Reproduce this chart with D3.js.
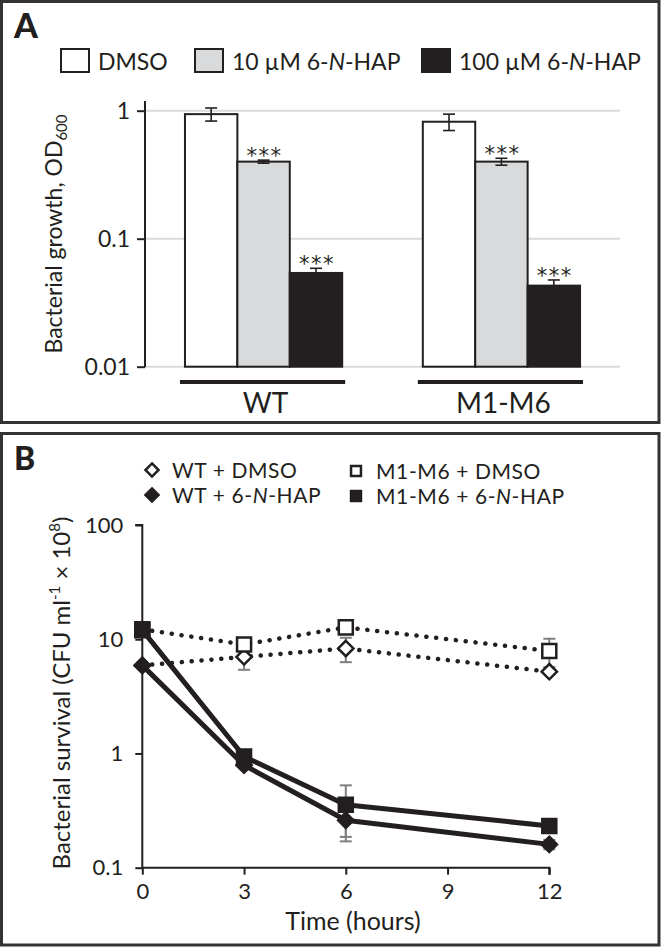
<!DOCTYPE html>
<html><head><meta charset="utf-8">
<script src="https://cdn.jsdelivr.net/npm/d3@7"></script>
<style>
body{margin:0;background:#fff}
text{font-family:Lato,"Open Sans",sans-serif;fill:#231f20}
text.stars{font-family:"DejaVu Sans",sans-serif}
</style>
</head><body>
<svg id="c" width="661" height="948"></svg>
<script>
// ---------- Panel A data ----------
const groups = ["WT", "M1-M6"];
const treatments = ["DMSO", "10 µM 6-N-HAP", "100 µM 6-N-HAP"];
const growthWT = [0.94, 0.40, 0.054];
const growthM16 = [0.82, 0.40, 0.043];
const errWT = [0.11, 0.011, 0.0047];
const errM16 = [0.12, 0.025, 0.0046];
const starsWT = ["", "***", "***"];
const starsM16 = ["", "***", "***"];
const growthTicks = [0.01, 0.1, 1];
const growthTickLabels = ["0.01", "0.1", "1"];

// ---------- Panel B data ----------
const hours = [0, 3, 6, 12];
const hourTicks = [0, 3, 6, 9, 12];
const survWTDMSO = [5.9, 7.0, 8.3, 5.2];
const survM16DMSO = [12.2, 9.0, 12.7, 7.9];
const survWTHAP = [5.9, 0.79, 0.26, 0.16];
const survM16HAP = [12.0, 0.94, 0.356, 0.232];
const errWTDMSO = [0, 1.6, 2.0, 0];
const errM16DMSO = [0, 0, 0, 2.2];
const errWTHAP = [0, 0, 0.09, 0.015];
const errM16HAP = [0, 0, 0.17, 0];
const survTicks = [0.1, 1, 10, 100];
const survTickLabels = ["0.1", "1", "10", "100"];

const INK = "#231f20";
const svg = d3.select("#c");

// frames
svg.append("rect").attr("x",1.5).attr("y",1.5).attr("width",657.5).attr("height",421)
  .attr("fill","none").attr("stroke","#333").attr("stroke-width",3);
svg.append("rect").attr("x",1.5).attr("y",433.5).attr("width",657.5).attr("height",511.5)
  .attr("fill","none").attr("stroke","#333").attr("stroke-width",3);

svg.append("text").attr("x",14).attr("y",38).attr("font-size",34).attr("font-weight",900).text("A");
svg.append("text").attr("x",14).attr("y",470).attr("font-size",32).attr("font-weight",900).text("B");

// ================= Panel A =================
const fills = ["#ffffff", "#d9dadc", INK];
const xA = d3.scaleBand().domain(groups).range([145, 620]).paddingInner(0.339).paddingOuter(0.168);
const xInner = d3.scaleBand().domain(treatments).range([0, xA.bandwidth()]);
const yAt = d3.scaleLog().domain([0.01, 1]).range([366.7, 110.7]);

// legend A
const legA = svg.append("g");
const legX = [61, 195, 422];
treatments.forEach((t, i) => {
  legA.append("rect").attr("x", legX[i]).attr("y", 49).attr("width", 28).attr("height", 23)
    .attr("fill", fills[i]).attr("stroke", INK).attr("stroke-width", 2);
  const tx = legA.append("text").attr("x", legX[i] + 37).attr("y", 70).attr("font-size", 23);
  if (i === 0) tx.text(t);
  else {
    const parts = t.split("N");
    tx.append("tspan").text(parts[0]);
    tx.append("tspan").attr("font-style", "italic").text("N");
    tx.append("tspan").text(parts[1]);
  }
});

// gridlines
svg.append("g").selectAll("line").data(growthTicks).join("line")
  .attr("x1", 145).attr("x2", 620).attr("y1", d => yAt(d)).attr("y2", d => yAt(d))
  .attr("stroke", "#d9d9d9").attr("stroke-width", 2);

// y axis A
const axA = d3.axisLeft(yAt).tickValues(growthTicks).tickFormat((d, i) => growthTickLabels[i]).tickSize(8).tickPadding(7);
const gA = svg.append("g").attr("transform", "translate(145,0)").call(axA);
gA.select(".domain").remove();
gA.selectAll(".tick line").attr("stroke", INK).attr("stroke-width", 2);
gA.selectAll(".tick text").attr("font-size", 23).attr("fill", INK);
svg.append("line").attr("x1", 145).attr("x2", 145).attr("y1", 101).attr("y2", 367)
  .attr("stroke", INK).attr("stroke-width", 2);

// bars
const barData = [];
groups.forEach((g, gi) => {
  const vals = gi === 0 ? growthWT : growthM16;
  const errs = gi === 0 ? errWT : errM16;
  const stars = gi === 0 ? starsWT : starsM16;
  treatments.forEach((t, ti) => barData.push({g, t, ti, v: vals[ti], e: errs[ti], s: stars[ti]}));
});
const bars = svg.append("g");
bars.selectAll("rect").data(barData).join("rect")
  .attr("x", d => xA(d.g) + xInner(d.t)).attr("width", xInner.bandwidth())
  .attr("y", d => yAt(d.v)).attr("height", d => yAt(0.01) - yAt(d.v))
  .attr("fill", d => fills[d.ti]).attr("stroke", INK).attr("stroke-width", 2);
// error bars
const eb = svg.append("g").attr("stroke", INK).attr("stroke-width", 1.6);
barData.forEach(d => {
  const cx = xA(d.g) + xInner(d.t) + xInner.bandwidth() / 2;
  const y1 = yAt(d.v + d.e), y0 = yAt(Math.max(d.v - d.e, 0.0101));
  eb.append("line").attr("x1", cx).attr("x2", cx).attr("y1", y1).attr("y2", y0);
  eb.append("line").attr("x1", cx - 6).attr("x2", cx + 6).attr("y1", y1).attr("y2", y1);
  eb.append("line").attr("x1", cx - 6).attr("x2", cx + 6).attr("y1", y0).attr("y2", y0);
  if (d.s) svg.append("text").attr("class", "stars").attr("x", cx + 1).attr("y", y1 + 3).attr("text-anchor", "middle")
    .attr("font-size", 21).attr("letter-spacing", 1.5).text(d.s);
});
// group underline & labels
groups.forEach(g => {
  svg.append("line").attr("x1", xA(g) - 5).attr("x2", xA(g) + xA.bandwidth() + 3)
    .attr("y1", 382).attr("y2", 382).attr("stroke", INK).attr("stroke-width", 4);
  svg.append("text").attr("x", xA(g) + xA.bandwidth() / 2 + 2).attr("y", 413)
    .attr("text-anchor", "middle").attr("font-size", 28).text(g);
});
// y title A
const tA = svg.append("text").attr("transform", "translate(62,234) rotate(-90)")
  .attr("text-anchor", "middle").attr("font-size", 23);
tA.append("tspan").text("Bacterial growth, OD");
tA.append("tspan").attr("font-size", 15).attr("dy", 5).text("600");

// ================= Panel B =================
const xB = d3.scaleLinear().domain([0, 12]).range([142.3, 549.3]);
const yB = d3.scaleLog().domain([0.1, 100]).range([867.7, 525]);

// axes
const axBy = d3.axisLeft(yB).tickValues(survTicks).tickFormat((d, i) => survTickLabels[i]).tickSize(7).tickPadding(12);
const gBy = svg.append("g").attr("transform", "translate(142.3,0)").call(axBy);
const axBx = d3.axisBottom(xB).tickValues(hourTicks).tickSize(7).tickPadding(9);
const gBx = svg.append("g").attr("transform", "translate(0,867.7)").call(axBx);
[gBy, gBx].forEach(g => {
  g.select(".domain").attr("stroke", INK).attr("stroke-width", 2);
  g.selectAll(".tick line").attr("stroke", INK).attr("stroke-width", 2);
  g.selectAll(".tick text").attr("font-size", 22).attr("fill", INK);
});
gBy.select(".domain").attr("d", `M-7,${yB(100)}H0V${yB(0.1)}`);
gBx.select(".domain").attr("d", `M${xB(0)},0H${xB(12)}V7`);

svg.append("text").attr("x", 353).attr("y", 930).attr("text-anchor", "middle").attr("font-size", 25).text("Time (hours)");
const tB = svg.append("text").attr("transform", "translate(70,693) rotate(-90)")
  .attr("text-anchor", "middle").attr("font-size", 24);
tB.append("tspan").text("Bacterial survival (CFU ml");
tB.append("tspan").attr("font-size", 15).attr("dy", -10).text("-1");
tB.append("tspan").attr("dy", 10).text(" × 10");
tB.append("tspan").attr("font-size", 15).attr("dy", -10).text("8");
tB.append("tspan").attr("dy", 10).text(")");

const series = [
  {v: survWTDMSO, e: errWTDMSO, shape: "diamond", fill: "#fff", dotted: true},
  {v: survM16DMSO, e: errM16DMSO, shape: "square", fill: "#fff", dotted: true},
  {v: survWTHAP, e: errWTHAP, shape: "diamond", fill: INK, dotted: false},
  {v: survM16HAP, e: errM16HAP, shape: "square", fill: INK, dotted: false}
];
const line = d3.line().x((d, i) => xB(hours[i])).y(d => yB(d));

// error bars (gray)
const ebB = svg.append("g").attr("stroke", "#7f7f7f").attr("stroke-width", 2);
series.forEach(s => s.v.forEach((v, i) => {
  const e = s.e[i]; if (!e) return;
  const cx = xB(hours[i]);
  const y1 = yB(v + e), y0 = yB(Math.max(v - e, 0.1));
  ebB.append("line").attr("x1", cx).attr("x2", cx).attr("y1", y1).attr("y2", y0);
  ebB.append("line").attr("x1", cx - 6).attr("x2", cx + 6).attr("y1", y1).attr("y2", y1);
  ebB.append("line").attr("x1", cx - 6).attr("x2", cx + 6).attr("y1", y0).attr("y2", y0);
}));

series.forEach(s => {
  const p = svg.append("path").datum(s.v).attr("d", line).attr("fill", "none").attr("stroke", INK);
  if (s.dotted) p.attr("stroke-width", 4.5).attr("stroke-dasharray", "0.1 9.8").attr("stroke-linecap", "round");
  else p.attr("stroke-width", 5).attr("stroke-linejoin", "round");
});
const sym = {
  diamond: d3.symbol().type(d3.symbolDiamond2).size(150),
  square: d3.symbol().type(d3.symbolSquare2).size(250)
};
series.forEach(s => {
  svg.append("g").selectAll("path").data(s.v).join("path")
    .attr("transform", (d, i) => `translate(${xB(hours[i])},${yB(d)})`)
    .attr("d", sym[s.shape]()).attr("fill", s.fill).attr("stroke", INK).attr("stroke-width", 2.5);
});

// legend B
const legB = [
  {label: ["WT + DMSO"], shape: "diamond", fill: "#fff", x: 152, y: 470},
  {label: ["WT + 6-", "N", "-HAP"], shape: "diamond", fill: INK, x: 152, y: 495},
  {label: ["M1-M6 + DMSO"], shape: "square", fill: "#fff", x: 356, y: 471},
  {label: ["M1-M6 + 6-", "N", "-HAP"], shape: "square", fill: INK, x: 356, y: 496}
];
const legSym = {
  diamond: d3.symbol().type(d3.symbolDiamond2).size(110),
  square: d3.symbol().type(d3.symbolSquare2).size(125)
};
legB.forEach(l => {
  svg.append("path").attr("transform", `translate(${l.x},${l.y})`).attr("d", legSym[l.shape]())
    .attr("fill", l.fill).attr("stroke", INK).attr("stroke-width", 2.5);
  const t = svg.append("text").attr("x", l.x + 20).attr("y", l.y + 8).attr("font-size", 21).attr("letter-spacing", 0.6);
  l.label.forEach((p, i) => t.append("tspan").attr("font-style", i === 1 ? "italic" : null).text(p));
});
</script>
</body></html>
